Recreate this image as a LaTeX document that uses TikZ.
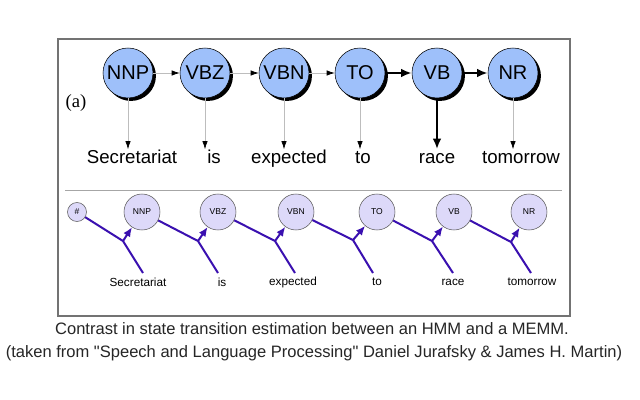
\documentclass[tikz,border=0pt]{standalone}
\usepackage{fontspec}
\setmainfont{Liberation Sans}
\newfontfamily\serifa{Liberation Serif}
\newfontfamily\capfont{Liberation Sans}[Ligatures=TeXOff]
\usetikzlibrary{arrows.meta}

\definecolor{hmmblue}{HTML}{9EC0FA}
\definecolor{memmlav}{HTML}{DDD9F9}
\definecolor{memmline}{HTML}{3A10B0}
\definecolor{weakgray}{HTML}{BDBDBD}

\begin{document}
\begin{tikzpicture}[x=0.75pt, y=-0.75pt,
    hmm/.style={circle, draw=black, fill=hmmblue, inner sep=0pt, minimum size=37.5pt,
      font=\fontsize{15}{18}\selectfont,
      preaction={fill=black, transform canvas={shift={(2.2pt,-2.2pt)}}}},
    memm/.style={circle, draw=black!65, fill=memmlav, inner sep=0pt, minimum size=27pt,
      font=\fontsize{6.4}{8}\selectfont},
    bigword/.style={anchor=base, inner sep=0pt, font=\fontsize{14}{16}\selectfont},
    smallword/.style={inner sep=0pt, font=\fontsize{8.8}{10}\selectfont},
    weak/.style={draw=weakgray, line width=0.5pt, -{Latex[color=black, length=6pt, width=4pt]}},
    strong/.style={draw=black, line width=1.8pt, -{Latex[length=8pt, width=6.5pt]}},
    feat/.style={draw=memmline, line width=1.5pt},
    featarrow/.style={feat, -{Latex[length=7pt, width=6pt]}},
    caption/.style={text=black!85, font=\capfont\fontsize{12.4}{14}\selectfont}]

  \fill[white] (0,0) rectangle (640,400);
  \useasboundingbox (0,0) rectangle (640,400);

  % frame and separator
  \draw[black!55, line width=1pt] (58,39) rectangle (570,316);
  \draw[black!35, line width=0.6pt] (65,190) -- (562,190);

  % (a) HMM
  \node[font=\serifa\fontsize{14}{16}\selectfont] (lbla) at (76,103) {(a)};

  \node[hmm] (NNP) at (128,73) {NNP};
  \node[hmm] (VBZ) at (205,73) {VBZ};
  \node[hmm] (VBN) at (284,73) {VBN};
  \node[hmm] (TO) at (360,73) {TO};
  \node[hmm] (VB) at (437,73) {VB};
  \node[hmm] (NR) at (513,73) {NR};

  \node[bigword] (w1) at (132,163) {Secretariat};
  \node[bigword] (w2) at (214,163) {is};
  \node[bigword] (w3) at (289,163) {expected};
  \node[bigword] (w4) at (363,163) {to};
  \node[bigword] (w5) at (437,163) {race};
  \node[bigword] (w6) at (521,163) {tomorrow};

  \draw[weak] (NNP) -- (VBZ);
  \draw[weak] (VBZ) -- (VBN);
  \draw[weak] (VBN) -- (TO);
  \draw[strong] (TO) -- (VB);
  \draw[strong] (VB) -- (NR);

  \draw[weak] (NNP.south) -- (NNP.south |- w1.north);
  \draw[weak] (VBZ.south) -- (VBZ.south |- w2.north);
  \draw[weak] (VBN.south) -- (VBN.south |- w3.north);
  \draw[weak] (TO.south) -- (TO.south |- w3.north);
  \draw[strong] (VB.south) -- (VB.south |- w3.north);
  \draw[weak] (NR.south) -- (NR.south |- w3.north);

  % (b) MEMM
  \node[memm, minimum size=14.25pt] (m0) at (77,212) {\#};
  \node[memm] (m1) at (142,212) {NNP};
  \node[memm] (m2) at (218,212) {VBZ};
  \node[memm] (m3) at (296,212) {VBN};
  \node[memm] (m4) at (377,212) {TO};
  \node[memm] (m5) at (454,212) {VB};
  \node[memm] (m6) at (529,212) {NR};

  \node[smallword] (o1) at (138,282) {Secretariat};
  \node[smallword] (o2) at (222,282) {is};
  \node[smallword] (o3) at (293,282) {expected};
  \node[smallword] (o4) at (377,282) {to};
  \node[smallword] (o5) at (453,282) {race};
  \node[smallword] (o6) at (532,282) {tomorrow};

  \coordinate (j1) at (123,241);
  \coordinate (j2) at (198,241);
  \coordinate (j3) at (275,241);
  \coordinate (j4) at (353,240);
  \coordinate (j5) at (432,241);
  \coordinate (j6) at (511,242);

  \coordinate (s1) at (143,273);
  \coordinate (s2) at (218,273);
  \coordinate (s3) at (295,273);
  \coordinate (s4) at (373,273);
  \coordinate (s5) at (453,273);
  \coordinate (s6) at (531,273);

  \draw[feat] (m0) -- (j1);
  \draw[feat] (m1) -- (j2);
  \draw[feat] (m2) -- (j3);
  \draw[feat] (m3) -- (j4);
  \draw[feat] (m4) -- (j5);
  \draw[feat] (m5) -- (j6);

  \draw[feat] (s1) -- (j1);
  \draw[feat] (s2) -- (j2);
  \draw[feat] (s3) -- (j3);
  \draw[feat] (s4) -- (j4);
  \draw[feat] (s5) -- (j5);
  \draw[feat] (s6) -- (j6);

  \draw[featarrow] (j1) -- (m1);
  \draw[featarrow] (j2) -- (m2);
  \draw[featarrow] (j3) -- (m3);
  \draw[featarrow] (j4) -- (m4);
  \draw[featarrow] (j5) -- (m5);
  \draw[featarrow] (j6) -- (m6);

  % caption
  \node[caption] (cap1) at (312,329)
    {Contrast in state transition estimation between an HMM and a MEMM.};
  \node[caption] (cap2) at (314,353)
    {(taken from "Speech and Language Processing" Daniel Jurafsky \& James H. Martin)};
\end{tikzpicture}
\end{document}
